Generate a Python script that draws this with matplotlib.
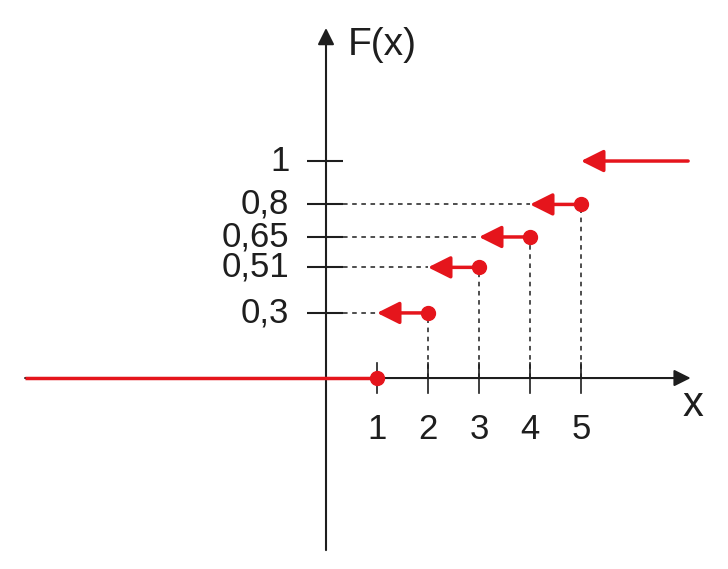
import matplotlib
matplotlib.use('Agg')
import matplotlib.pyplot as plt

# step function data (cdf)
xs = [1, 2, 3, 4, 5]
levels = [0.0, 0.3, 0.51, 0.65, 0.8, 1.0]
ytick_labels = ['0,3', '0,51', '0,65', '0,8', '1']
xtick_labels = ['1', '2', '3', '4', '5']

RED = '#e5151c'
INK = '#1e1e1e'
plt.rcParams['font.family'] = ['Liberation Sans', 'DejaVu Sans']

fig = plt.figure(figsize=(7.28, 5.69), dpi=100)
ax = fig.add_axes([0, 0, 1, 1])  # whole figure, axes drawn by hand
ax.set_xlim(-6.392, 7.882)
ax.set_ylim(-0.880, 1.742)
ax.axis('off')

# axes with arrows
ax.annotate('', xy=(7.15, 0), xytext=(-5.9, 0),
            arrowprops=dict(arrowstyle='-|>', color=INK, lw=1.5, mutation_scale=25, shrinkA=0, shrinkB=0))
ax.annotate('', xy=(0, 1.613), xytext=(0, -0.793),
            arrowprops=dict(arrowstyle='-|>', color=INK, lw=1.5, mutation_scale=25, shrinkA=0, shrinkB=0))

# y ticks + labels
for lv, lab in zip(levels[1:], ytick_labels):
    ax.plot([-0.37, 0.33], [lv, lv], color=INK, lw=1.5, solid_capstyle='butt')
    ax.text(-0.72, lv, lab, ha='right', va='center', fontsize=25, color=INK)

# x ticks + labels
for x, lab in zip(xs, xtick_labels):
    ax.plot([x, x], [-0.069, 0.069], color=INK, lw=1.2)
    ax.text(x, -0.235, lab, ha='center', va='center', fontsize=25, color=INK)

# dashed guides
for k in range(1, len(xs)):
    lv = levels[k]
    ax.plot([0.33, xs[k - 1]], [lv, lv], color=INK, lw=1.1, ls=(0, (3, 3)))
    ax.plot([xs[k], xs[k]], [0, lv], color=INK, lw=1.1, ls=(0, (3, 3)))

# red step function
ax.plot([-5.9, xs[0]], [0, 0], color=RED, lw=2.5, solid_capstyle='butt', zorder=3)
for k in range(1, len(xs)):
    ax.annotate('', xy=(xs[k - 1], levels[k]), xytext=(xs[k], levels[k]),
                arrowprops=dict(arrowstyle='-|>', color=RED, lw=2.5, mutation_scale=34, shrinkA=0, shrinkB=0),
                zorder=4)
ax.annotate('', xy=(xs[-1], levels[-1]), xytext=(7.1, levels[-1]),
            arrowprops=dict(arrowstyle='-|>', color=RED, lw=2.5, mutation_scale=34, shrinkA=0, shrinkB=0),
            zorder=4)
ax.plot(xs, levels[:-1], 'o', color=RED, ms=10, zorder=5)

# axis names
ax.text(0.43, 1.535, 'F(x)', ha='left', va='center', fontsize=28, color=INK)
ax.text(7.2, -0.124, 'x', ha='center', va='center', fontsize=30, color=INK)

plt.savefig('out.png', dpi=100)
